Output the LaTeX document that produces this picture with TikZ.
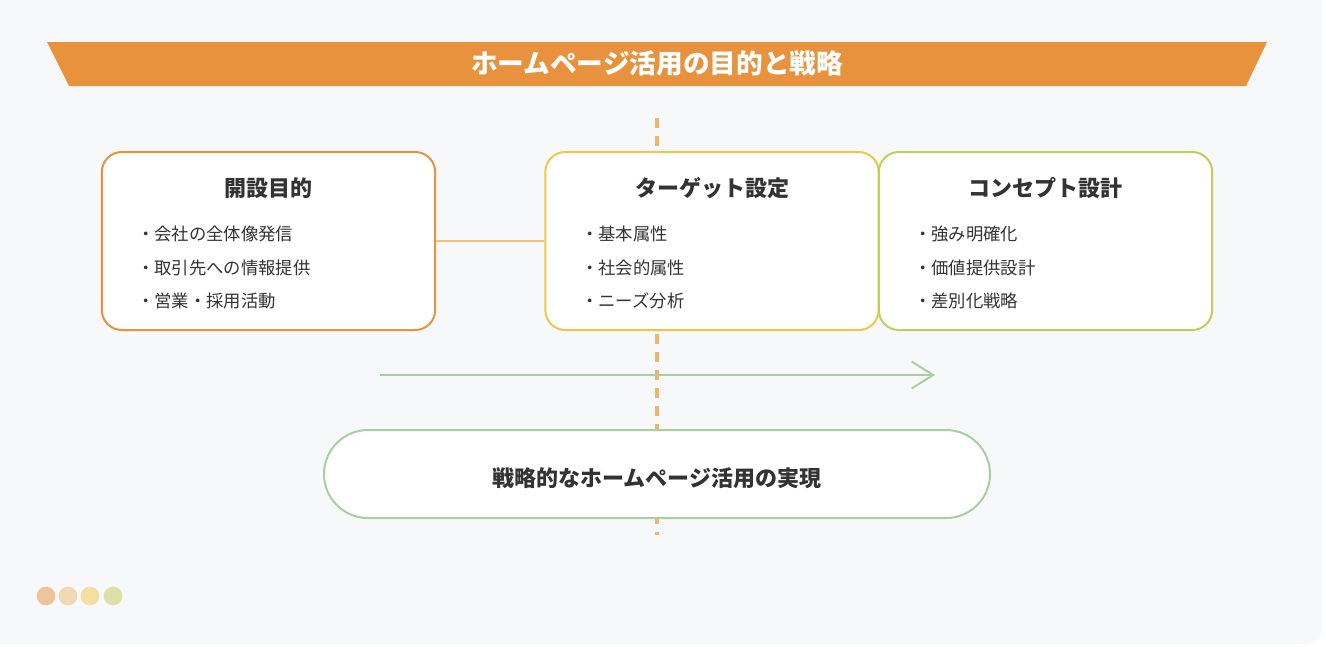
\documentclass[tikz,border=0pt]{standalone}
\usepackage{fontspec}
\setmainfont{Noto Sans CJK JP}
\usetikzlibrary{arrows.meta}
\definecolor{pagegray}{HTML}{F7F8FA}
\definecolor{bannerorange}{HTML}{E8923E}
\definecolor{boxorange}{HTML}{E8923E}
\definecolor{boxyellow}{HTML}{F0C648}
\definecolor{boxolive}{HTML}{C5CC5E}
\definecolor{linkorange}{HTML}{F0C080}
\definecolor{dashorange}{HTML}{ECB868}
\definecolor{flowgreen}{HTML}{A8CFA0}
\definecolor{inkgray}{HTML}{333333}
\definecolor{dotA}{HTML}{EFC49A}
\definecolor{dotB}{HTML}{F0D9B5}
\definecolor{dotC}{HTML}{F4DFA0}
\definecolor{dotD}{HTML}{DDE0A8}

\begin{document}
\begin{tikzpicture}[x=0.75pt,y=-0.75pt,
    stepbox/.style={draw, line width=1.5pt, fill=white, rounded corners=15pt,
        minimum width=250pt, minimum height=133.5pt, inner sep=0pt},
    heading/.style={font=\bfseries\fontsize{16.5}{19}\selectfont, text=inkgray},
    item/.style={anchor=west, inner sep=0pt, font=\fontsize{13}{16}\selectfont, text=inkgray}]
    \useasboundingbox (0,0) rectangle (1326,646);
    \fill[white] (0,0) rectangle (1326,646);
    \fill[pagegray] (0,0) -- (1322,0) [rounded corners=12pt] -- (1322,644) [sharp corners] -- (0,644) -- cycle;
    %
    \fill[bannerorange] (47,42) -- (1267,42) -- (1246,86) -- (69,86) -- cycle;
    \node (title) at (657,63) [text=white, font=\bfseries\fontsize{20}{24}\selectfont]{ホームページ活用の目的と戦略};
    %
    \coordinate (dtop) at (657,118);
    \coordinate (dbot) at (657,535);
    \draw[dashorange, line width=3pt, dash pattern=on 7.5pt off 6pt] (dtop) -- (dbot);
    %
    \draw
    (268.5,241)node(goal)[stepbox, draw=boxorange]{}
    (712,241)node(target)[stepbox, draw=boxyellow]{}
    (1045.5,241)node(concept)[stepbox, draw=boxolive]{};
    \draw[linkorange, line width=1.5pt] (goal.east) -- (target.west);
    %
    \node (goalhead) at (268,188) [heading]{開設目的};
    \node (goal1) at (137,234) [item]{・会社の全体像発信};
    \node (goal2) at (137,268) [item]{・取引先への情報提供};
    \node (goal3) at (137,301) [item]{・営業・採用活動};
    %
    \node (targethead) at (712,188) [heading]{ターゲット設定};
    \node (target1) at (581,234) [item]{・基本属性};
    \node (target2) at (581,268) [item]{・社会的属性};
    \node (target3) at (581,301) [item]{・ニーズ分析};
    %
    \node (concepthead) at (1045,188) [heading]{コンセプト設計};
    \node (concept1) at (914,234) [item]{・強み明確化};
    \node (concept2) at (914,268) [item]{・価値提供設計};
    \node (concept3) at (914,301) [item]{・差別化戦略};
    %
    \coordinate (astart) at (380,375);
    \coordinate (aend) at (935,375);
    \draw[flowgreen, line width=1.5pt, -{Straight Barb[length=16pt,width=20pt]}] (astart) -- (aend);
    %
    \node (result) at (657,474) [draw=flowgreen, line width=1.5pt, fill=white, rounded corners=33pt,
        minimum width=499.5pt, minimum height=66pt, heading,
        text height=19pt, text depth=0pt]{戦略的なホームページ活用の実現};
    %
    \fill[dotA] (46,596) circle (7pt);
    \fill[dotB] (68,596) circle (7pt);
    \fill[dotC] (90,596) circle (7pt);
    \fill[dotD] (113,596) circle (7pt);
\end{tikzpicture}
\end{document}
